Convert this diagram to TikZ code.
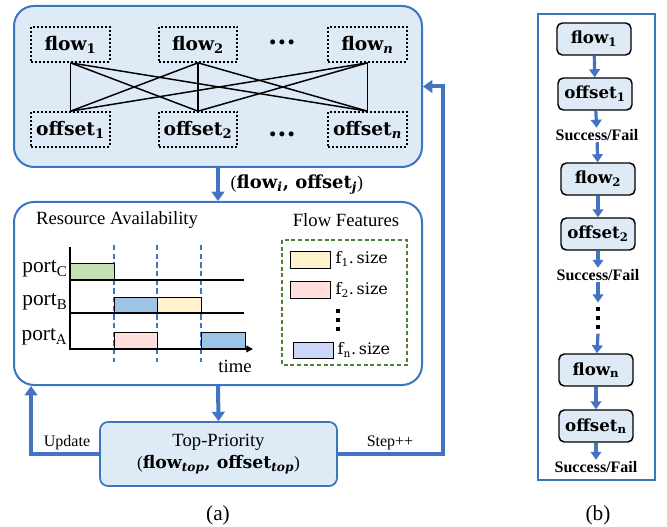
\documentclass[tikz,border=0pt]{standalone}
\usepackage{fontspec}
\setmainfont{Liberation Serif}
\newfontfamily\cmbfont{DejaVu Serif}
\usetikzlibrary{arrows.meta,calc}

\definecolor{boxblue}{RGB}{58,118,192}
\definecolor{arrowblue}{RGB}{68,114,196}
\definecolor{lightblue}{RGB}{222,234,246}
\definecolor{barblue}{RGB}{157,195,230}
\definecolor{bargreen}{RGB}{197,224,180}
\definecolor{baryellow}{RGB}{255,242,204}
\definecolor{barpink}{RGB}{255,222,222}
\definecolor{barlav}{RGB}{204,214,250}
\definecolor{darkgreen}{RGB}{84,130,53}

\begin{document}
\begin{tikzpicture}[
  x=0.75pt, y=-0.75pt,
  bigbox/.style={draw=boxblue, line width=1.5pt, rounded corners=15pt,
                 minimum width=306pt},
  pairbox/.style={draw, line width=1.5pt, dash pattern=on 1.5pt off 1.5pt,
                  minimum width=59pt, minimum height=26pt, inner sep=0pt,
                  font=\cmbfont\bfseries\fontsize{14}{16}\selectfont},
  stepbox/.style={draw, line width=1.1pt, rounded corners=4pt, fill=lightblue,
                  minimum width=55.5pt, minimum height=24pt, inner sep=0pt,
                  font=\cmbfont\bfseries\fontsize{12.5}{14}\selectfont},
  sflabel/.style={font=\bfseries\fontsize{12}{14}\selectfont, inner sep=1pt},
  txt/.style={font=\fontsize{14}{16}\selectfont, inner sep=1pt},
  portlabel/.style={font=\fontsize{16}{18}\selectfont, anchor=east, inner sep=1pt},
  sizelabel/.style={font=\cmbfont\fontsize{12}{14}\selectfont, anchor=west, inner sep=1pt},
  pairline/.style={line width=1.1pt},
  bar/.style={draw, line width=0.6pt},
  slot/.style={draw=arrowblue, line width=0.9pt, dash pattern=on 4pt off 2.5pt},
  vdots/.style={minimum width=3pt, minimum height=17pt, inner sep=0pt,
                path picture={\foreach \k in {0,1,2}
                  \fill ([yshift=-\k*7pt]path picture bounding box.north west) rectangle ++(3pt,-3pt);}},
  arrow/.style={-{Triangle[width=9.5pt,length=7pt]}, line width=3pt, draw=arrowblue},
  smallarrow/.style={-{Triangle[width=8pt,length=6pt]}, line width=2.4pt, draw=arrowblue}
]
\useasboundingbox (0,0) rectangle (667,527);

% (a) candidate pairs
\node[bigbox, fill=lightblue, minimum height=120.75pt] (top) at (218,86.5) {};
\node[pairbox] (flow1) at (70.5,44.5) {flow\textsubscript{1}};
\node[pairbox] (flow2) at (198,44.5) {flow\textsubscript{2}};
\node[pairbox] (flown) at (367.5,44.5) {flow\textsubscript{\itshape n}};
\node[pairbox] (offset1) at (70.5,129.5) {offset\textsubscript{1}};
\node[pairbox] (offset2) at (198,129.5) {offset\textsubscript{2}};
\node[pairbox] (offsetn) at (367.5,129.5) {offset\textsubscript{\itshape n}};
\node[font=\cmbfont\bfseries\fontsize{20}{22}\selectfont] (hdots1) at (282,42) {...};
\node[font=\cmbfont\bfseries\fontsize{20}{22}\selectfont] (hdots2) at (282,134) {...};

\foreach \f in {flow1,flow2,flown}
  \foreach \o in {offset1,offset2,offsetn}
    \draw[pairline] (\f.south) -- (\o.north);

% resource availability and flow features
\node[bigbox, fill=white, minimum height=137.25pt] (mid) at (218,293.5) {};
\draw[arrow] (top.south) -- (mid.north);
\node[font=\fontsize{13.5}{15}\selectfont, anchor=west] (pairlbl) at (226,185)
  {({\cmbfont\bfseries flow\textsubscript{\itshape i}, offset\textsubscript{\itshape j}})};

\node[txt] (resav) at (117,220) {Resource Availability};
\node[txt] (flowfeat) at (346,220) {Flow Features};

% time slots
\draw[slot] (114,245) -- (114,362);
\draw[slot] (157,245) -- (157,362);
\draw[slot] (201,245) -- (201,362);
\draw[bar, fill=bargreen] (70,263) rectangle (114,280);
\draw[bar, fill=barblue] (114,297) rectangle (157,313);
\draw[bar, fill=baryellow] (157,297) rectangle (201,313);
\draw[bar, fill=barpink] (114,332) rectangle (157,349);
\draw[bar, fill=barblue] (201,332) rectangle (245,349);
\draw[line width=1.1pt] (70,280) -- (244,280);
\draw[line width=1.1pt] (70,313) -- (244,313);
\draw[line width=1.1pt, -{Triangle[width=5pt,length=5pt]}] (70,247) -- (70,349) -- (253,349);
\node[portlabel] (portc) at (69,269) {port\textsubscript{C}};
\node[portlabel] (portb) at (69,302) {port\textsubscript{B}};
\node[portlabel] (porta) at (69,337) {port\textsubscript{A}};
\node[txt] (timelbl) at (235,366) {time};

% flow features legend
\draw[darkgreen, line width=1pt, dash pattern=on 3pt off 2pt] (282,240) rectangle (407,365);
\draw[bar, fill=baryellow] (290,251) rectangle (330,268);
\draw[bar, fill=barpink] (290,281) rectangle (330,298);
\draw[bar, fill=barlav] (293,342) rectangle (333,358);
\node[sizelabel] (f1) at (334,259) {f\textsubscript{1}.\,size};
\node[sizelabel] (f2) at (334,290) {f\textsubscript{2}.\,size};
\node[sizelabel] (fn) at (336,350) {f\textsubscript{n}.\,size};
\node[vdots] (legdots) at (338,320) {};

% top priority
\node[draw=boxblue, line width=1.3pt, rounded corners=6pt, fill=lightblue,
      minimum width=177.75pt, minimum height=48pt, align=center,
      font=\fontsize{14}{17}\selectfont] (topp) at (218.5,454)
  {Top-Priority\\{\fontsize{13}{15}\selectfont(\textbf{\cmbfont flow\textsubscript{\itshape top}, offset\textsubscript{\itshape top}})}};
\draw[arrow] (mid.south) -- (topp.north);
\draw[arrow] (topp.west) -| ($(mid.south west)+(18,0)$);
\draw[arrow] (topp.east) -- ++(105,0) |- (top.east);
\node[font=\fontsize{12}{14}\selectfont] (updlbl) at (67,443) {Update};
\node[font=\fontsize{12}{14}\selectfont] (steplbl) at (390,443) {Step++};
\node[font=\fontsize{16}{18}\selectfont] (capa) at (218,515) {(a)};

% (b) sequential placement
\node[draw=boxblue, line width=1.5pt, minimum width=87.75pt, minimum height=349.5pt] (panelb) at (596.5,247) {};
\node[stepbox] (bflow1) at (594,39) {flow\textsubscript{1}};
\node[stepbox] (boffset1) at (595,94) {offset\textsubscript{1}};
\node[sflabel] (sf1) at (597,135) {Success/Fail};
\node[stepbox] (bflow2) at (598,179) {flow\textsubscript{2}};
\node[stepbox] (boffset2) at (598,234) {offset\textsubscript{2}};
\node[sflabel] (sf2) at (598,275) {Success/Fail};
\node[vdots] (bdots) at (598,318) {};
\node[stepbox] (bflown) at (596,370) {flow\textsubscript{n}};
\node[stepbox] (boffsetn) at (596,426) {offset\textsubscript{n}};
\node[sflabel] (sf3) at (596,467) {Success/Fail};
\node[font=\fontsize{16}{18}\selectfont] (capb) at (598,515) {(b)};

\draw[smallarrow] (bflow1) -- (boffset1);
\draw[smallarrow] (boffset1) -- (sf1);
\draw[smallarrow] (sf1) -- (bflow2);
\draw[smallarrow] (bflow2) -- (boffset2);
\draw[smallarrow] (boffset2) -- (sf2);
\draw[smallarrow] (sf2) -- ([yshift=3pt]bdots.north);
\draw[smallarrow] ([yshift=-3pt]bdots.south) -- (bflown);
\draw[smallarrow] (bflown) -- (boffsetn);
\draw[smallarrow] (boffsetn) -- (sf3);

\end{tikzpicture}
\end{document}
